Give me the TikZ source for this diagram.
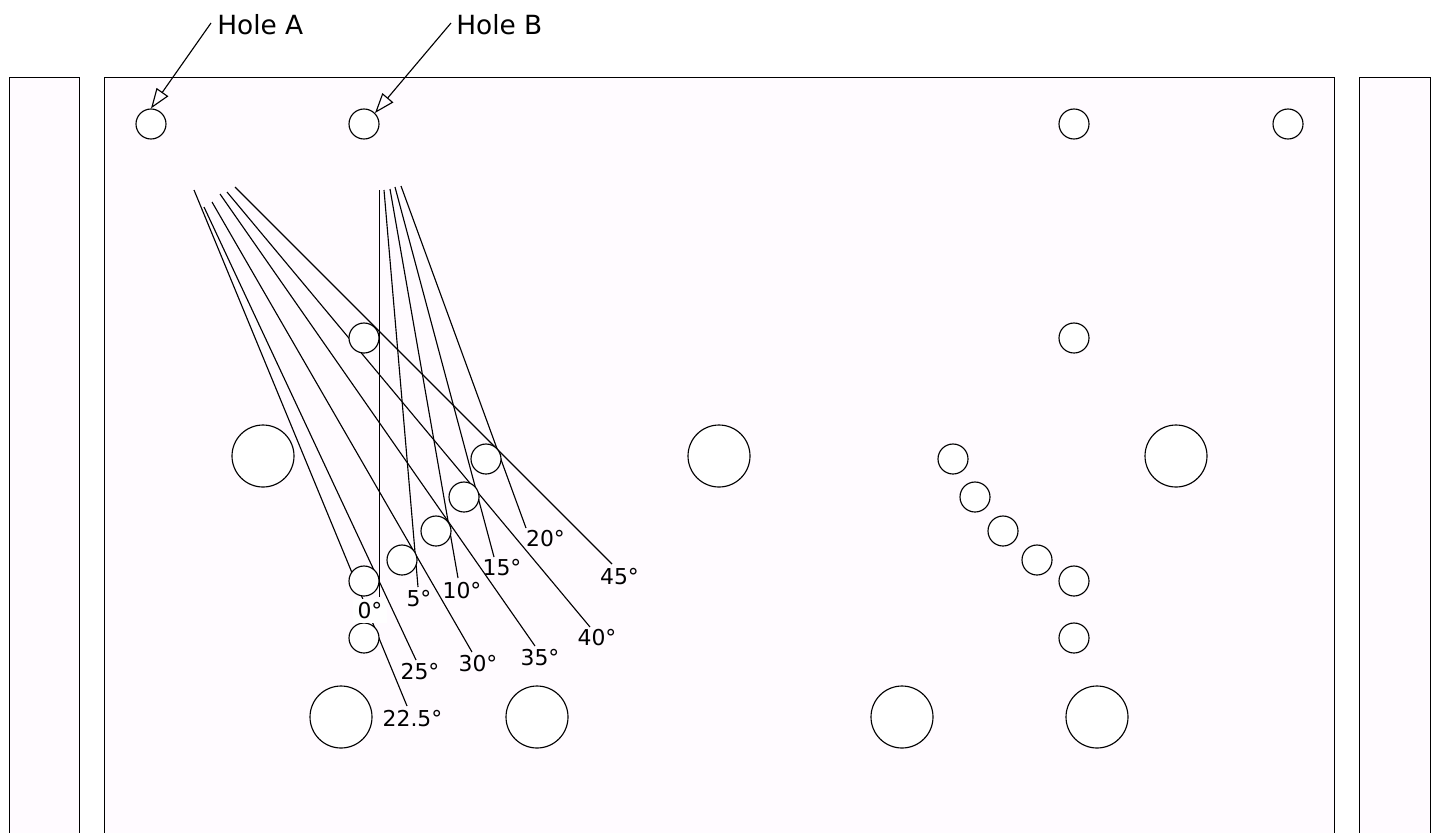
\documentclass[tikz,border=0pt]{standalone}
\usepackage{fontspec}
\setmainfont{DejaVu Sans}
\usetikzlibrary{arrows.meta}
\definecolor{plate}{HTML}{FFFBFF}
\tikzset{
  x=0.75pt,y=-0.75pt,
  platebox/.style={draw=black,fill=plate,line width=0.75pt},
  hole/.style={circle,draw=black,fill=white,line width=0.85pt,inner sep=0pt,minimum size=#1*0.75pt},
  leader/.style={draw=black,line width=0.85pt},
  angle/.style={font=\fontsize{16.4pt}{18pt}\selectfont,text=black,inner sep=0pt},
  holelabel/.style={font=\fontsize{19.8pt}{22pt}\selectfont,text=black,inner sep=0pt},
  pointer/.style={draw=black,line width=0.85pt,-{Triangle[open,fill=plate,length=15pt,width=10.7pt]}}
}
\begin{document}
\begin{tikzpicture}
\useasboundingbox (0,0) rectangle (1437,832);
\path[platebox] (9.5,845) -- (9.5,77.5) -- (79.5,77.5) -- (79.5,845);
\path[platebox] (104.5,845) -- (104.5,77.5) -- (1334.5,77.5) -- (1334.5,845);
\path[platebox] (1359.5,845) -- (1359.5,77.5) -- (1430.5,77.5) -- (1430.5,845);
% free ends of leader lines
\foreach \n/\x/\y in {s0/379.5/190,s5/384/190,s10/390/189,s15/395/187,s20/401/186,s22/194/190,s25/204/207,s30/212/202,s35/220/194,s40/227/192,s45/235/187}
  \coordinate (\n) at (\x,\y);
\coordinate (e0) at (379.5,597); \coordinate (e5) at (418,587); \coordinate (e10) at (458,578);
\coordinate (e15) at (494,557); \coordinate (e20) at (526,528); \coordinate (e22) at (407,706);
\coordinate (e25) at (416,660); \coordinate (e30) at (472,652); \coordinate (e35) at (535,646);
\coordinate (e40) at (590,627); \coordinate (e45) at (612,564);
\foreach \n in {22,25,30,35,40,45,0,5,10,15,20}
  \draw[leader] (s\n) -- (e\n);
% holes
\foreach \n/\x/\y in {a/151/124,b/364/124,c/1074/124,d/1288/124,e/1074/338,f/364/338,g/486/459,h/464/497,i/436/531,j/402/560,k/364/581,l/364/638,m/953/459,n/975/497,o/1003/531,p/1037/560,q/1074/581,r/1074/638}
  \node[hole=30] (\n) at (\x,\y) {};
\foreach \n/\x/\y in {A/263/456,B/719/456,C/1176/456,D/341/717,E/537/717,F/902/717,G/1097/717}
  \node[hole=62] (\n) at (\x,\y) {};
\node[angle,fill=white,minimum width=25.5pt,minimum height=18pt] (l0) at (370,611) {0°};
\node[angle] (l5) at (419,598.7) {5°};
\node[angle] (l10) at (462,590.7) {10°};
\node[angle] (l15) at (502,567.7) {15°};
\node[angle] (l20) at (545.5,538.7) {20°};
\node[angle] (l22) at (412.5,718.7) {22.5°};
\node[angle] (l25) at (420,671.7) {25°};
\node[angle] (l30) at (478,663.7) {30°};
\node[angle] (l35) at (540,657.7) {35°};
\node[angle] (l40) at (597,637.7) {40°};
\node[angle] (l45) at (619.5,576.7) {45°};
\node[holelabel,anchor=west] (ha) at (217,25) {Hole A};
\node[holelabel,anchor=west] (hb) at (456,25) {Hole B};
\draw[pointer] (ha.west) ++(-6,-2) coordinate (pa) (pa) -- (a.north);
\draw[pointer] (hb.west) ++(-5,-2) coordinate (pb) (pb) -- (b.45);
\end{tikzpicture}
\end{document}
